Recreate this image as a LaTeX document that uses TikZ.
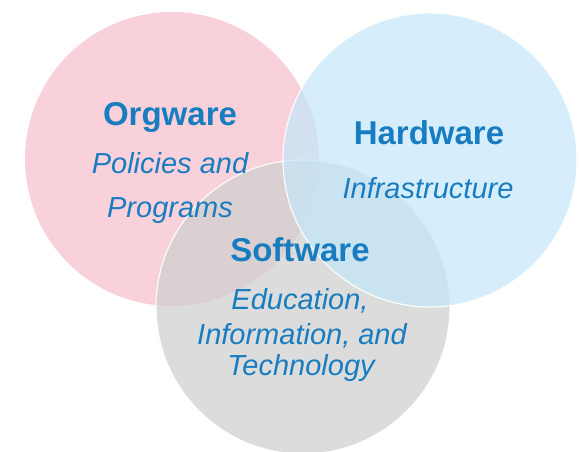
\documentclass[tikz,border=0pt]{standalone}
\usepackage{fontspec}
\setmainfont{Liberation Sans}
\definecolor{pinkc}{RGB}{248,209,219}
\definecolor{grayc}{RGB}{208,208,208}
\definecolor{bluec}{RGB}{196,231,249}
\definecolor{txtblue}{RGB}{24,125,192}
\begin{document}
\begin{tikzpicture}[x=1pt,y=-1pt,
  titletext/.style={anchor=base,text=txtblue,font=\fontsize{33}{38}\selectfont\bfseries,inner sep=0pt},
  subtext/.style={anchor=base,text=txtblue,font=\fontsize{29}{34}\selectfont\itshape,inner sep=0pt},
  circ/.style={circle,minimum size=294pt,inner sep=0pt}]
\useasboundingbox (0,0) rectangle (582,452);
\node[circ,fill=pinkc] (org) at (172,159) {};
\node[circ,fill=grayc,fill opacity=0.75,draw=white,line width=1.2pt,draw opacity=0.9] (soft) at (303,307) {};
\node[circ,fill=bluec,fill opacity=0.7,draw=white,line width=1.2pt,draw opacity=0.9] (hard) at (430,160) {};
\node[titletext] (orgt) at (170,125) {Orgware};
\node[subtext] (orgs1) at (170,173) {Policies and};
\node[subtext] (orgs2) at (170,217) {Programs};
\node[titletext] (hardt) at (429,145) {Hardware};
\node[subtext] (hards) at (428,198) {Infrastructure};
\node[titletext] (softt) at (300,261) {Software};
\node[subtext] (softs1) at (300,309) {Education,};
\node[subtext] (softs2) at (302,344) {Information, and};
\node[subtext] (softs3) at (301,375) {Technology};
\end{tikzpicture}
\end{document}
